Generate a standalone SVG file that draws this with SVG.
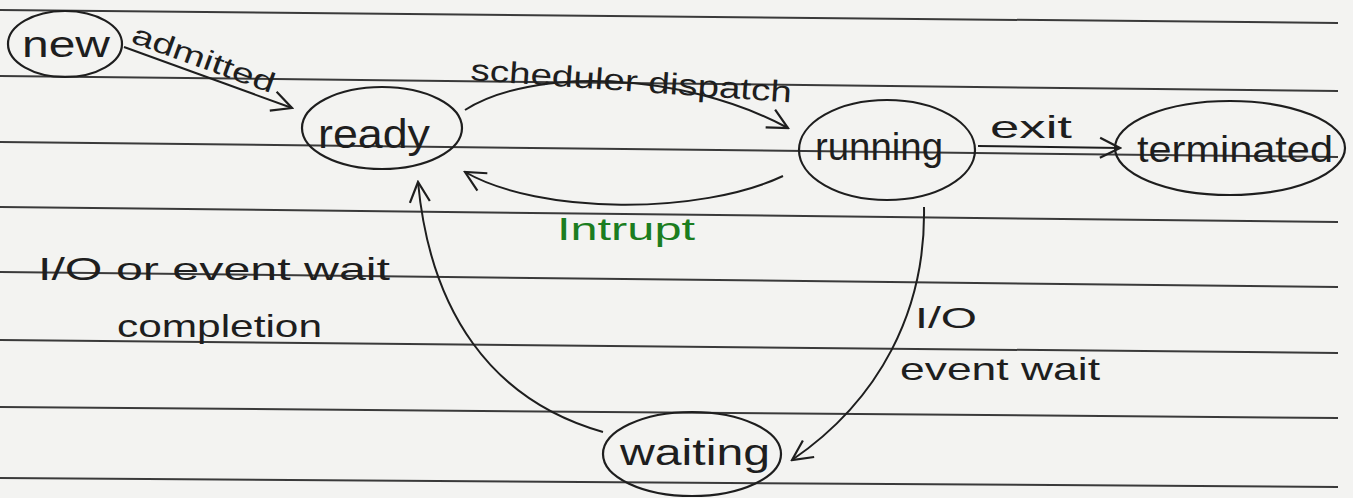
<svg xmlns="http://www.w3.org/2000/svg" width="1353" height="498" viewBox="0 0 1353 498">
<style>
.paper{stroke:#3a3a3a;stroke-width:2;fill:none}
.node{fill:none;stroke:#1e1e1e;stroke-width:2.2}
.conn{fill:none;stroke:#1e1e1e;stroke-width:2}
.t{font-family:"Liberation Sans",Arial,sans-serif;fill:#1e1e1e}
.g{fill:#1b7d20}
</style>
<defs>
<marker id="arrL" viewBox="0 0 24 24" refX="22" refY="12" markerWidth="24" markerHeight="24" markerUnits="userSpaceOnUse" orient="auto">
<path d="M2,2 L22,12 L2,22" fill="none" stroke="#1e1e1e" stroke-width="2.2"/>
</marker>
</defs>
<rect width="1353" height="498" fill="#f3f3f1"/>
<g id="paper-lines" class="paper">
<line x1="0" y1="10" x2="1338" y2="23"/>
<line x1="0" y1="76" x2="1338" y2="91"/>
<line x1="0" y1="142" x2="1338" y2="157"/>
<line x1="0" y1="207" x2="1338" y2="222"/>
<line x1="0" y1="272" x2="1338" y2="287"/>
<line x1="0" y1="340" x2="1338" y2="353"/>
<line x1="0" y1="407" x2="1338" y2="418"/>
<line x1="0" y1="478" x2="1338" y2="487"/>
</g>
<g id="connectors">
<path class="conn" d="M124,47 L292,108" marker-end="url(#arrL)"/>
<path class="conn" d="M465,110 C530,68 680,70 788,128" marker-end="url(#arrL)"/>
<path class="conn" d="M783,176 C700,215 540,215 465,172" marker-end="url(#arrL)"/>
<path class="conn" d="M978,146 L1120,148" marker-end="url(#arrL)"/>
<path class="conn" d="M924,207 C926,310 880,400 792,460" marker-end="url(#arrL)"/>
<path class="conn" d="M603,432 C490,400 430,310 418,182" marker-end="url(#arrL)"/>
<text class="t" x="130" y="42" font-size="28" textLength="150" lengthAdjust="spacingAndGlyphs" transform="rotate(20 130 42)">admitted</text>
<text class="t" x="470" y="80" font-size="30" textLength="322" lengthAdjust="spacingAndGlyphs" transform="rotate(4 470 80)">scheduler dispatch</text>
<text class="t g" x="557" y="240" font-size="32" textLength="138" lengthAdjust="spacingAndGlyphs">Intrupt</text>
<text class="t" x="990" y="138" font-size="32" textLength="82" lengthAdjust="spacingAndGlyphs">exit</text>
<text class="t" x="38" y="280" font-size="32" textLength="352" lengthAdjust="spacingAndGlyphs">I/O or event wait</text>
<text class="t" x="117" y="337" font-size="32" textLength="205" lengthAdjust="spacingAndGlyphs">completion</text>
<text class="t" x="915" y="328" font-size="30" textLength="62" lengthAdjust="spacingAndGlyphs">I/O</text>
<text class="t" x="900" y="380" font-size="32" textLength="200" lengthAdjust="spacingAndGlyphs">event wait</text>
</g>
<g id="node-new">
<ellipse class="node" cx="65" cy="44" rx="57" ry="33"/>
<text class="t" x="22" y="57" font-size="36" textLength="88" lengthAdjust="spacingAndGlyphs">new</text>
</g>
<g id="node-ready">
<ellipse class="node" cx="382" cy="128" rx="80" ry="41"/>
<text class="t" x="318" y="148" font-size="40" textLength="112" lengthAdjust="spacingAndGlyphs">ready</text>
</g>
<g id="node-running">
<ellipse class="node" cx="887" cy="150" rx="88" ry="50"/>
<text class="t" x="815" y="160" font-size="38" textLength="128" lengthAdjust="spacingAndGlyphs">running</text>
</g>
<g id="node-terminated">
<ellipse class="node" cx="1230" cy="148" rx="115" ry="47"/>
<text class="t" x="1137" y="162" font-size="36" textLength="196" lengthAdjust="spacingAndGlyphs">terminated</text>
</g>
<g id="node-waiting">
<ellipse class="node" cx="692" cy="454" rx="89" ry="42"/>
<text class="t" x="620" y="465" font-size="36" textLength="150" lengthAdjust="spacingAndGlyphs">waiting</text>
</g>
</svg>
